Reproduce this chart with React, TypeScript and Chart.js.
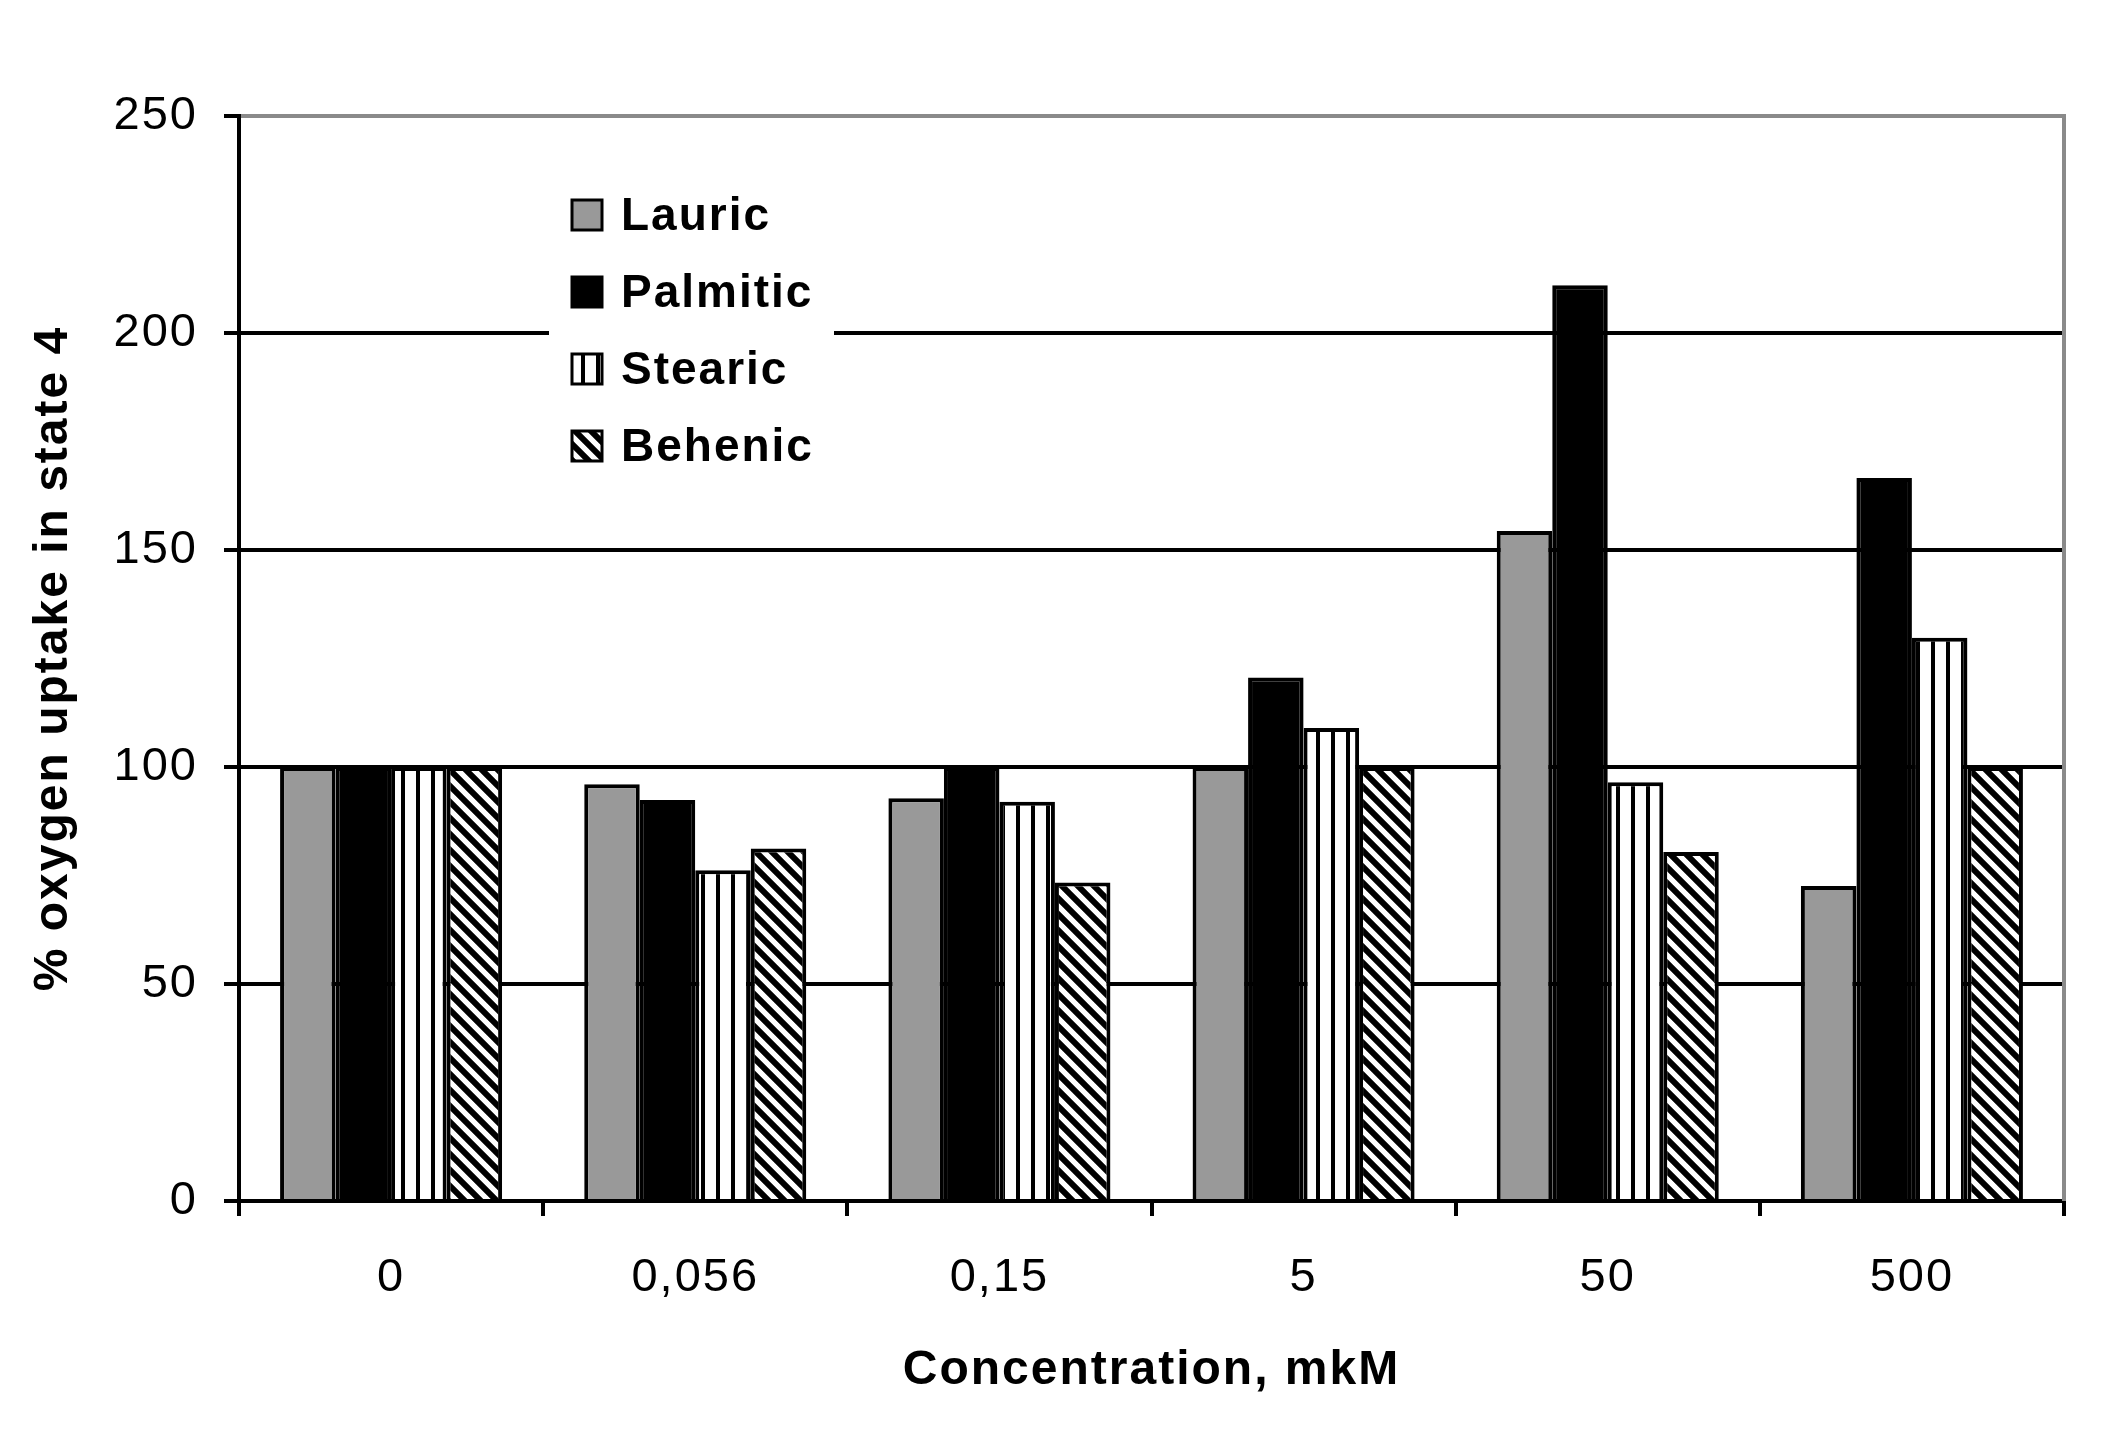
import React, { useEffect, useRef } from 'react';
import { Chart, registerables } from 'chart.js';
Chart.register(...registerables);

const categories = ['0', '0,056', '0,15', '5', '50', '500'];
const lauric = [100, 96, 92.8, 100, 154.4, 72.6];
const palmitic = [100, 92.4, 100, 120.6, 211, 166.6];
const stearic = [100, 76.2, 92, 109, 96.5, 129.8];
const behenic = [100, 81.2, 73.4, 100, 80.4, 100];
const seriesNames = ['Lauric', 'Palmitic', 'Stearic', 'Behenic'];
const yMin = 0;
const yMax = 250;
const yStep = 50;
const xTitle = 'Concentration, mkM';
const yTitle = '% oxygen uptake in state 4';

function makeVerticalPattern(): CanvasPattern | string {
  const c = document.createElement('canvas');
  c.width = 15; c.height = 15;
  const g = c.getContext('2d');
  if (!g) return '#fff';
  g.fillStyle = '#fff';
  g.fillRect(0, 0, 15, 15);
  g.fillStyle = '#000';
  g.fillRect(11, 0, 4, 15);
  return g.createPattern(c, 'repeat') || '#fff';
}

function makeDiagPattern(): CanvasPattern | string {
  const s = 16;
  const c = document.createElement('canvas');
  c.width = s; c.height = s;
  const g = c.getContext('2d');
  if (!g) return '#fff';
  g.fillStyle = '#fff';
  g.fillRect(0, 0, s, s);
  g.strokeStyle = '#000';
  g.lineWidth = 6;
  g.beginPath();
  g.moveTo(-s, -s); g.lineTo(2 * s, 2 * s);
  g.moveTo(-s, 0); g.lineTo(s, 2 * s);
  g.moveTo(0, -s); g.lineTo(2 * s, s);
  g.stroke();
  return g.createPattern(c, 'repeat') || '#fff';
}

export default function App() {
  const ref = useRef<HTMLCanvasElement | null>(null);
  useEffect(() => {
    if (!ref.current) return;
    const vPat = makeVerticalPattern();
    const dPat = makeDiagPattern();
    const fills = ['#999999', '#000000', vPat, dPat];
    const series = [lauric, palmitic, stearic, behenic];

    const spacingPlugin = {
      id: 'spacing',
      beforeUpdate(chart: any) { chart.ctx.letterSpacing = '2px'; },
      beforeDraw(chart: any) { chart.ctx.letterSpacing = '2px'; },
    };

    const legendPlugin = {
      id: 'customLegend',
      afterDraw(chart: any) {
        const ctx = chart.ctx;
        const a = chart.chartArea;
        ctx.save();
        // right border
        ctx.strokeStyle = '#8a8a8a';
        ctx.lineWidth = 4;
        ctx.beginPath();
        ctx.moveTo(a.right, a.top - 2);
        ctx.lineTo(a.right, a.bottom);
        ctx.stroke();
        // legend box
        const bx = a.left + 310;
        const by = a.top + 60;
        ctx.fillStyle = '#fff';
        ctx.fillRect(bx, by, 285, 310);
        ctx.letterSpacing = '2px';
        const rowY0 = a.top + 99;
        const rowStep = 77;
        seriesNames.forEach((name, i) => {
          const cy = rowY0 + i * rowStep;
          const sx = bx + 23;
          ctx.fillStyle = fills[i];
          ctx.fillRect(sx, cy - 15, 30, 30);
          ctx.strokeStyle = '#000';
          ctx.lineWidth = 3;
          ctx.strokeRect(sx, cy - 15, 30, 30);
          ctx.fillStyle = '#000';
          ctx.font = 'bold 46px "Liberation Sans", Arial, sans-serif';
          ctx.textBaseline = 'middle';
          ctx.textAlign = 'left';
          ctx.fillText(name, bx + 72, cy + 2);
        });
        ctx.restore();
      },
    };

    const chart = new Chart(ref.current, {
      type: 'bar',
      data: {
        labels: categories,
        datasets: series.map((d, i) => ({
          label: seriesNames[i],
          data: d,
          backgroundColor: fills[i] as any,
          borderColor: '#000',
          borderWidth: 4,
          categoryPercentage: 0.73,
          barPercentage: 1.0,
        })),
      },
      options: {
        responsive: false,
        animation: false,
        devicePixelRatio: 1,
        layout: { padding: { left: 0, top: 116, right: 62, bottom: 0 } },
        plugins: {
          legend: { display: false },
          tooltip: { enabled: false },
        },
        scales: {
          x: {
            afterFit: (s: any) => { s.height = 243; },
            grid: {
              display: true,
              drawOnChartArea: false,
              drawTicks: true,
              tickLength: 15,
              tickColor: '#000',
              lineWidth: 4,
              offset: true,
            },
            border: { display: true, color: '#000', width: 4 },
            ticks: {
              color: '#000',
              padding: 34,
              font: { family: '"Liberation Sans", Arial, sans-serif', size: 47 },
              maxRotation: 0,
            },
            title: {
              display: true,
              text: xTitle,
              color: '#000',
              font: { family: '"Liberation Sans", Arial, sans-serif', size: 48, weight: 'bold' },
              padding: { top: 0, bottom: 44 },
            },
          },
          y: {
            min: yMin,
            max: yMax,
            afterFit: (s: any) => { s.width = 239; },
            grid: {
              color: (c: any) => (c.tick && c.tick.value === yMax ? '#8a8a8a' : '#000'),
              lineWidth: 4,
              drawTicks: true,
              tickLength: 15,
              tickColor: '#000',
            },
            border: { display: true, color: '#000', width: 4 },
            ticks: {
              stepSize: yStep,
              color: '#000',
              padding: 26,
              font: { family: '"Liberation Sans", Arial, sans-serif', size: 47 },
            },
            title: {
              display: true,
              text: yTitle,
              color: '#000',
              font: { family: '"Liberation Sans", Arial, sans-serif', size: 48, weight: 'bold' },
              padding: { top: 25, bottom: 0 },
            },
          },
        },
      },
      plugins: [spacingPlugin, legendPlugin],
    });
    return () => chart.destroy();
  }, []);

  return (
    <div style={{ position: 'fixed', left: 0, top: 0, width: 2126, height: 1444, background: '#fff' }}>
      <canvas ref={ref} width={2126} height={1444} style={{ width: 2126, height: 1444, display: 'block' }} />
    </div>
  );
}
